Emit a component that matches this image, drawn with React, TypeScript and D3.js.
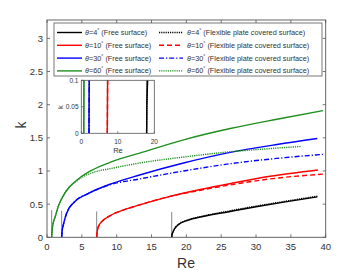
import React from 'react';
import * as d3 from 'd3';

// curves: Re values and wavenumber k
const reG60Free = [0.67, 0.75, 0.9, 1.15, 1.63, 2.58, 4.5, 6.4, 9.3, 13.3, 19.6, 26.3, 33, 39.6];
const kG60Free = [0, 0.12, 0.22, 0.3, 0.47, 0.67, 0.88, 1.01, 1.14, 1.27, 1.47, 1.64, 1.78, 1.91];
const reG60Plate = [0.67, 0.75, 0.9, 1.15, 1.63, 2.58, 4.5, 6.4, 9.3, 13.3, 19.6, 26.3, 31, 36.5];
const kG60Plate = [0, 0.12, 0.22, 0.3, 0.47, 0.67, 0.87, 0.97, 1.04, 1.12, 1.21, 1.29, 1.33, 1.37];

const reB30Free = [2.1, 2.18, 2.35, 2.8, 4.0, 5.9, 9.3, 13.3, 19.6, 26.3, 33, 38.8];
const kB30Free = [0, 0.1, 0.19, 0.36, 0.54, 0.66, 0.81, 0.94, 1.12, 1.28, 1.4, 1.49];
const reB30Plate = [2.1, 2.18, 2.35, 2.8, 4.0, 5.9, 9.3, 13.3, 19.6, 26.3, 33, 39.6];
const kB30Plate = [0, 0.1, 0.19, 0.36, 0.54, 0.66, 0.8, 0.88, 1.0, 1.11, 1.19, 1.25];

const reR10Free = [7.13, 7.2, 7.36, 8.1, 9.3, 11.2, 13.3, 17.4, 22, 26.3, 32, 38.9];
const kR10Free = [0, 0.08, 0.16, 0.26, 0.34, 0.42, 0.49, 0.61, 0.72, 0.81, 0.92, 1.015];
const reR10Plate = [7.13, 7.2, 7.36, 8.1, 9.3, 11.2, 13.3, 17.4, 22, 26.3, 32, 39.9];
const kR10Plate = [0, 0.08, 0.16, 0.26, 0.34, 0.42, 0.49, 0.61, 0.71, 0.79, 0.88, 0.955];

const reK4Free = [17.9, 17.95, 18.1, 18.8, 20.3, 22.2, 26.3, 30, 34, 38.8];
const kK4Free = [0, 0.04, 0.085, 0.185, 0.26, 0.31, 0.39, 0.46, 0.53, 0.61];
const reK4Plate = [17.9, 17.95, 18.1, 18.8, 20.3, 22.2, 26.3, 30, 34, 38.8];
const kK4Plate = [0, 0.04, 0.09, 0.19, 0.265, 0.315, 0.4, 0.47, 0.54, 0.62];

// grey onset markers
const onsetRe = [0.67, 2.1, 7.13, 17.9];
const onsetK = [0.41, 0.4, 0.39, 0.38];

const xTicks = [0, 5, 10, 15, 20, 25, 30, 35, 40];
const yTicks = [0, 0.5, 1, 1.5, 2, 2.5, 3];
const insetXTicks = [0, 10, 20];
const insetYTicks = [0, 0.05, 0.1];

const angles = ['4', '10', '30', '60'];

const GREEN = '#1f8f1f';
const series = [
  { re: reK4Free, k: kK4Free, color: '#000', dash: null },
  { re: reK4Plate, k: kK4Plate, color: '#000', dash: '1.2,1' },
  { re: reR10Free, k: kR10Free, color: '#ff0000', dash: null },
  { re: reR10Plate, k: kR10Plate, color: '#ff0000', dash: '5,3' },
  { re: reB30Free, k: kB30Free, color: '#0000ff', dash: null },
  { re: reB30Plate, k: kB30Plate, color: '#0000ff', dash: '5,2,1.2,2' },
  { re: reG60Free, k: kG60Free, color: GREEN, dash: null },
  { re: reG60Plate, k: kG60Plate, color: GREEN, dash: '1.2,1' },
];

const FONT = '"Liberation Sans", Arial, sans-serif';
const AXIS = '#555';
const TEXT = '#333';

const Curves = ({ x, y, clip }) => {
  const gen = d3.line().curve(d3.curveMonotoneX);
  return (
    <g clipPath={clip}>
      {onsetRe.map((r, i) => (
        <line key={'m' + i} x1={x(r)} x2={x(r)} y1={y(0)} y2={y(onsetK[i])} stroke="#666" strokeWidth={0.8} />
      ))}
      {series.map((s, i) => {
        const pts = s.re.map((r, j) => [x(r), y(s.k[j])] as [number, number]);
        return (
          <path key={i} d={gen(pts) || ''} fill="none" stroke={s.color}
            strokeWidth={1.4} strokeDasharray={s.dash || undefined} />
        );
      })}
    </g>
  );
};

const Theta = ({ a, rest }) => (
  <>
    <tspan fontStyle="italic">θ</tspan>
    <tspan>{'=' + a}</tspan>
    <tspan dy={-3} fontSize={5}>°</tspan>
    <tspan dy={3}>{rest}</tspan>
  </>
);

const App = () => {
  const W = 360, H = 270;
  const left = 47, right = 325.7, top = 20, bottom = 237.3;
  const x = d3.scaleLinear().domain([0, 40]).range([left, right]);
  const y = d3.scaleLinear().domain([0, 3.277]).range([bottom, top]);

  const iL = 81.3, iR = 154.3, iT = 80.3, iB = 133.3;
  const ix = d3.scaleLinear().domain([0, 20]).range([iL, iR]);
  const iy = d3.scaleLinear().domain([0, 0.1]).range([iB, iT]);

  const legL = 54, legT = 23, legR = 322, legB = 76;
  const rowY = i => 32.5 + i * 12.8;

  return (
    <svg width={W} height={H} style={{ position: 'absolute', left: 0, top: 0, fontFamily: FONT }}>
      <rect width={W} height={H} fill="#fff" />
      <defs>
        <clipPath id="mainClip"><rect x={left} y={top} width={right - left} height={bottom - top} /></clipPath>
        <clipPath id="insetClip"><rect x={iL} y={iT} width={iR - iL} height={iB - iT} /></clipPath>
      </defs>

      <Curves x={x} y={y} clip="url(#mainClip)" />

      {/* main axes frame and ticks */}
      <rect x={left} y={top} width={right - left} height={bottom - top} fill="none" stroke={AXIS} strokeWidth={0.9} />
      {xTicks.map(t => (
        <g key={'x' + t}>
          <line x1={x(t)} x2={x(t)} y1={bottom} y2={bottom - 3} stroke={AXIS} strokeWidth={0.8} />
          <line x1={x(t)} x2={x(t)} y1={top} y2={top + 3} stroke={AXIS} strokeWidth={0.8} />
          <text x={x(t)} y={250} textAnchor="middle" fontSize={9.5} fill={TEXT}>{t}</text>
        </g>
      ))}
      {yTicks.map(t => (
        <g key={'y' + t}>
          <line x1={left} x2={left + 3} y1={y(t)} y2={y(t)} stroke={AXIS} strokeWidth={0.8} />
          <line x1={right} x2={right - 3} y1={y(t)} y2={y(t)} stroke={AXIS} strokeWidth={0.8} />
          <text x={43} y={y(t) + 3.4} textAnchor="end" fontSize={9.5} fill={TEXT}>{t}</text>
        </g>
      ))}
      <text x={186} y={268} textAnchor="middle" fontSize={14} fill={TEXT}>Re</text>
      <text transform="translate(26,125) rotate(-90)" textAnchor="middle" fontSize={14} fill={TEXT}>k</text>

      {/* legend */}
      <rect x={legL} y={legT} width={legR - legL} height={legB - legT} fill="#fff" stroke={AXIS} strokeWidth={0.8} />
      {angles.map((a, i) => {
        const free = series[i * 2];
        const plate = series[i * 2 + 1];
        const yy = rowY(i);
        return (
          <g key={'l' + a} fontSize={7.3} fill={TEXT}>
            <line x1={57} x2={82} y1={yy} y2={yy} stroke={free.color} strokeWidth={1.4} />
            <text x={85} y={yy + 2.5}><Theta a={a} rest=" (Free surface)" /></text>
            <line x1={159} x2={183} y1={yy} y2={yy} stroke={plate.color} strokeWidth={1.4} strokeDasharray={plate.dash || undefined} />
            <text x={187} y={yy + 2.5}><Theta a={a} rest={(i === 0 ? ' ' : '  ') + '(Flexible plate covered surface)'} /></text>
          </g>
        );
      })}

      {/* inset */}
      <rect x={iL} y={iT} width={iR - iL} height={iB - iT} fill="#fff" />
      <Curves x={ix} y={iy} clip="url(#insetClip)" />
      <rect x={iL} y={iT} width={iR - iL} height={iB - iT} fill="none" stroke={AXIS} strokeWidth={0.8} />
      {insetXTicks.map(t => (
        <g key={'ix' + t}>
          <line x1={ix(t)} x2={ix(t)} y1={iB} y2={iB - 2} stroke={AXIS} strokeWidth={0.7} />
          <text x={ix(t)} y={143.8} textAnchor="middle" fontSize={6.5} fill={TEXT}>{t}</text>
        </g>
      ))}
      {insetYTicks.map(t => (
        <g key={'iy' + t}>
          <line x1={iL} x2={iL + 2} y1={iy(t)} y2={iy(t)} stroke={AXIS} strokeWidth={0.7} />
          <text x={78.5} y={iy(t) + 2.3} textAnchor="end" fontSize={6.5} fill={TEXT}>{t}</text>
        </g>
      ))}
      <text x={118} y={152.5} textAnchor="middle" fontSize={7.5} fill={TEXT}>Re</text>
      <text transform="translate(63,107) rotate(-90)" textAnchor="middle" fontSize={7.5} fill={TEXT}>k</text>
    </svg>
  );
};

export default App;
